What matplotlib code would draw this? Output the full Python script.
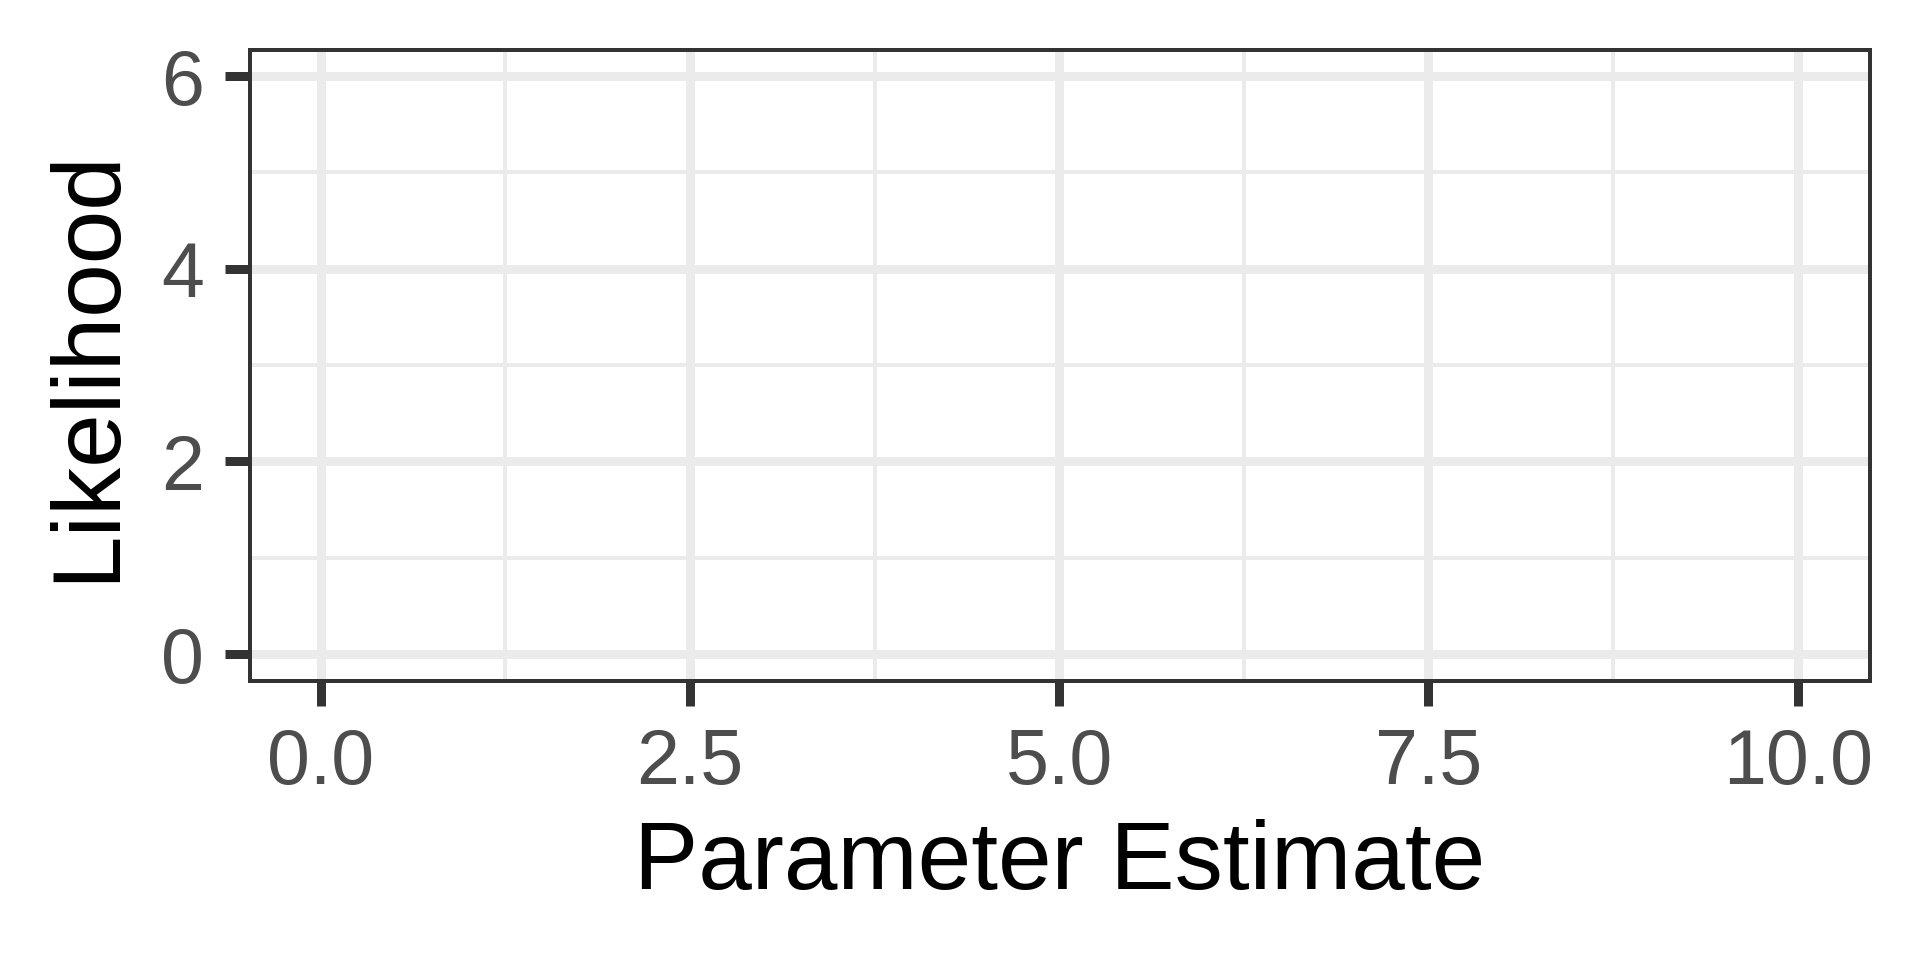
import matplotlib.pyplot as plt

# Axis setup (empty panel, ggplot theme_bw look)
x_ticks = [0, 2.5, 5, 7.5, 10]
x_tick_labels = ['0.0', '2.5', '5.0', '7.5', '10.0']
x_minor = [1.25, 3.75, 6.25, 8.75]
x_limits = (-0.48, 10.49)

y_ticks = [0, 2, 4, 6]
y_tick_labels = ['0', '2', '4', '6']
y_minor = [1, 3, 5]
y_limits = (-0.28, 6.27)

x_title = 'Parameter Estimate'
y_title = 'Likelihood'

plt.rcParams['font.family'] = ['Liberation Sans', 'DejaVu Sans']

W, H = 1920, 960
fig = plt.figure(figsize=(6.4, 3.2), dpi=300)
# panel box in pixels: left 250, right 1870, top 50, bottom 681
ax = fig.add_axes([250 / W, 1 - 681 / H, (1870 - 250) / W, (681 - 50) / H])

ax.set_xlim(*x_limits)
ax.set_ylim(*y_limits)

ax.set_xticks(x_ticks)
ax.set_xticklabels(x_tick_labels)
ax.set_yticks(y_ticks)
ax.set_yticklabels(y_tick_labels)
ax.set_xticks(x_minor, minor=True)
ax.set_yticks(y_minor, minor=True)

px = 72 / 300  # points per pixel at 300 dpi

ax.grid(which='major', color='#EBEBEB', linewidth=9 * px)
ax.grid(which='minor', color='#EBEBEB', linewidth=4 * px)
ax.set_axisbelow(True)

ax.tick_params(which='major', length=25 * px, width=9 * px, color='#333333',
               labelsize=18.5, labelcolor='#4D4D4D', pad=5)
ax.tick_params(which='minor', length=0)

for s in ax.spines.values():
    s.set_color('#333333')
    s.set_linewidth(4 * px)

ax.set_xlabel(x_title, fontsize=23.1, color='black')
ax.set_ylabel(y_title, fontsize=23.1, color='black')
ax.xaxis.set_label_coords(0.5, -0.219)
ax.yaxis.set_label_coords(-0.072, 0.5)

fig.savefig('out.png', dpi=300)
